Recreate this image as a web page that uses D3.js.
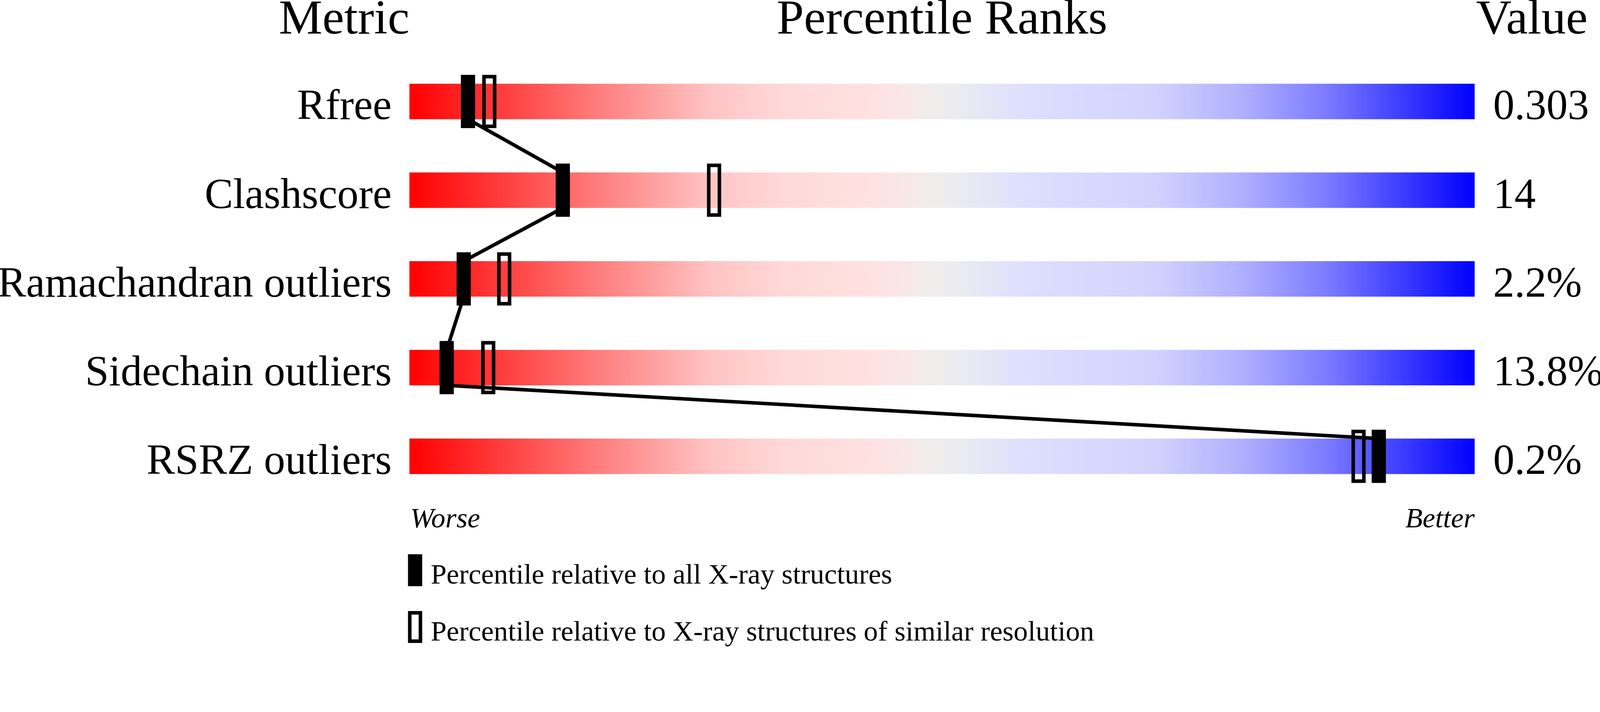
<!DOCTYPE html>
<html>
<head>
<meta charset="utf-8">
<script src="https://cdn.jsdelivr.net/npm/d3@7"></script>
<style>
  html, body { margin: 0; padding: 0; background: #fff; overflow: hidden; width: 100%; height: 100%; }
  #chart { width: 100vw; height: 100vh; }
  svg { display: block; width: 100vw; height: 100vh; }
  text { font-family: "Liberation Serif", "Times New Roman", Times, serif; fill: #000; }
</style>
</head>
<body>
<div id="chart"></div>
<script>
// ---- data ----
const metrics = ["Rfree", "Clashscore", "Ramachandran outliers", "Sidechain outliers", "RSRZ outliers"];
const valueLabels = ["0.303", "14", "2.2%", "13.8%", "0.2%"];
const percentileAll = [5.5, 14.4, 5.1, 3.5, 91.0];
const percentileSimilar = [7.5, 28.6, 8.9, 7.4, 89.1];
const headers = ["Metric", "Percentile Ranks", "Value"];
const axisEnds = ["Worse", "Better"];
const legendLabels = ["Percentile relative to all X-ray structures",
                      "Percentile relative to X-ray structures of similar resolution"];

// ---- style ----
const gradientStops = [
  [0.00, "#ff0000"], [0.10, "#ff4646"], [0.17, "#ff7878"], [0.28, "#ffc2c2"],
  [0.35, "#ffd8d8"], [0.44, "#ffe2e2"], [0.50, "#eeeeee"], [0.58, "#dedeff"],
  [0.70, "#d2d2ff"], [0.78, "#b0b0ff"], [0.86, "#7c7cff"], [1.00, "#0000ff"]
];

const W = 4506, H = 1824;
const svg = d3.select("#chart").append("svg")
  .attr("viewBox", `0 0 ${W} ${H}`)
  .attr("preserveAspectRatio", "xMidYMin meet");

svg.append("rect").attr("width", W).attr("height", H).attr("fill", "#fff");

const x = d3.scaleLinear().domain([0, 100]).range([1153, 4153]);
const y = d3.scalePoint().domain(metrics).range([236, 1236]);
const barH = 100;

const grad = svg.append("defs").append("linearGradient")
  .attr("id", "pgrad").attr("x1", "0%").attr("x2", "100%").attr("y1", "0%").attr("y2", "0%");
grad.selectAll("stop").data(gradientStops).join("stop")
  .attr("offset", d => d[0]).attr("stop-color", d => d[1]);

// headers
svg.append("text").attr("x", x(0)).attr("y", 95).attr("text-anchor", "end")
  .attr("font-size", 138).text(headers[0]);
svg.append("text").attr("x", x(50)).attr("y", 95).attr("text-anchor", "middle")
  .attr("font-size", 138).text(headers[1]);
svg.append("text").attr("x", x(100) + 4).attr("y", 95).attr("text-anchor", "start")
  .attr("font-size", 138).text(headers[2]);

// bars
svg.selectAll("rect.bar").data(metrics).join("rect").attr("class", "bar")
  .attr("x", x(0)).attr("y", d => y(d))
  .attr("width", x(100) - x(0)).attr("height", barH)
  .attr("fill", "url(#pgrad)");

// metric labels
svg.selectAll("text.metric").data(metrics).join("text").attr("class", "metric")
  .attr("x", x(0) - 50).attr("y", d => y(d) + barH)
  .attr("text-anchor", "end").attr("font-size", 120).text(d => d);

// value labels
svg.selectAll("text.val").data(valueLabels).join("text").attr("class", "val")
  .attr("x", x(100) + 52).attr("y", (d, i) => y(metrics[i]) + barH)
  .attr("text-anchor", "start").attr("font-size", 120).text(d => d);

// connecting line: bottom of bar i at marker -> top of bar i+1 at marker
const pts = [];
percentileAll.forEach((p, i) => {
  if (i > 0) pts.push([x(p), y(metrics[i])]);
  if (i < metrics.length - 1) pts.push([x(p), y(metrics[i]) + barH]);
});
const segs = [];
for (let i = 0; i < pts.length; i += 2) segs.push([pts[i], pts[i + 1]]);
svg.selectAll("path.conn").data(segs).join("path").attr("class", "conn")
  .attr("d", d => d3.line()(d))
  .attr("stroke", "#000").attr("stroke-width", 10).attr("fill", "none");

// hollow markers (similar resolution)
svg.selectAll("rect.sim").data(percentileSimilar).join("rect").attr("class", "sim")
  .attr("x", d => x(d) - 15).attr("y", (d, i) => y(metrics[i]) - 20)
  .attr("width", 30).attr("height", barH + 40)
  .attr("fill", "none").attr("stroke", "#000").attr("stroke-width", 10);

// filled markers (all structures)
svg.selectAll("rect.all").data(percentileAll).join("rect").attr("class", "all")
  .attr("x", d => x(d) - 20).attr("y", (d, i) => y(metrics[i]) - 25)
  .attr("width", 40).attr("height", barH + 50)
  .attr("fill", "#000");

// worse / better
svg.append("text").attr("x", x(0) + 2).attr("y", 1486).attr("text-anchor", "start")
  .attr("font-size", 80).attr("font-style", "italic").text(axisEnds[0]);
svg.append("text").attr("x", x(100)).attr("y", 1486).attr("text-anchor", "end")
  .attr("font-size", 80).attr("font-style", "italic").text(axisEnds[1]);

// legend
svg.append("rect").attr("x", 1149).attr("y", 1562).attr("width", 40).attr("height", 90).attr("fill", "#000");
svg.append("rect").attr("x", 1154).attr("y", 1727).attr("width", 30).attr("height", 80)
  .attr("fill", "none").attr("stroke", "#000").attr("stroke-width", 10);
svg.selectAll("text.leg").data(legendLabels).join("text").attr("class", "leg")
  .attr("x", 1213).attr("y", (d, i) => 1645 + i * 160)
  .attr("font-size", 80).text(d => d);
</script>
</body>
</html>
